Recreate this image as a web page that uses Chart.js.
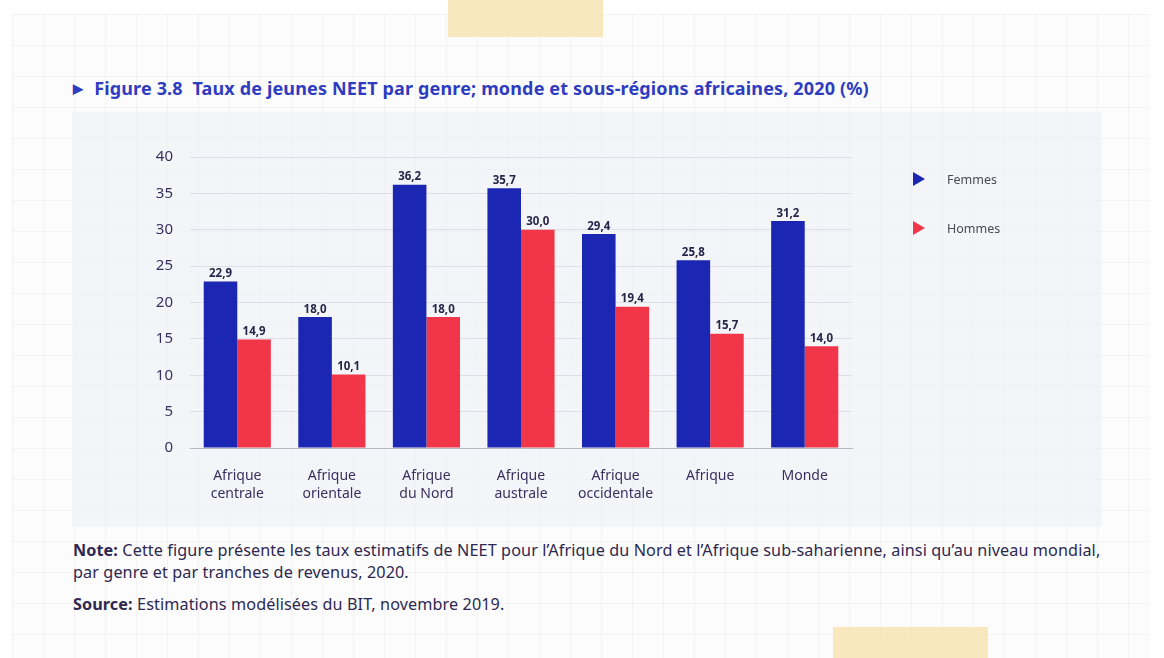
<!DOCTYPE html>
<html><head><meta charset="utf-8">
<script src="https://cdn.jsdelivr.net/npm/chart.js@4/dist/chart.umd.min.js"></script>
<style>
html,body{margin:0;padding:0;background:#fff;}
body{width:1164px;height:658px;position:relative;overflow:hidden;font-family:"Noto Sans",sans-serif;}
#paper{position:absolute;left:12px;top:14px;width:1138px;height:650px;background-color:#fcfcfd;
background-image:linear-gradient(to right, rgba(0,0,0,0.035) 1px, transparent 1px),linear-gradient(to bottom, rgba(0,0,0,0.035) 1px, transparent 1px);
background-size:31px 31px;}
#panel{position:absolute;left:72px;top:112px;width:1030px;height:415px;background:rgba(236,238,246,0.55);}
#tape1{position:absolute;left:448px;top:0;width:155px;height:37px;background:rgba(248,225,172,0.8);}
#tape2{position:absolute;left:833px;top:627px;width:155px;height:31px;background:rgba(248,225,172,0.8);}
#title{position:absolute;left:73px;top:76px;font-size:18px;font-weight:bold;color:#2f3cc0;white-space:nowrap;letter-spacing:0.15px;}
#title .tri{display:inline-block;font-size:13px;margin-right:11px;vertical-align:2px;}
#note{position:absolute;left:73px;top:539px;font-size:16.2px;line-height:22px;color:#2e2850;width:1080px;white-space:nowrap;letter-spacing:0.1px;}
#source{position:absolute;left:73px;top:593px;font-size:16.2px;color:#2e2850;letter-spacing:0.1px;}
b{font-weight:bold;}
#wrap{position:absolute;left:72px;top:112px;width:1030px;height:415px;}
</style></head>
<body>
<div id="paper"></div>
<div id="panel"></div>
<div id="tape1"></div>
<div id="tape2"></div>
<div id="title"><span class="tri">&#9654;</span>Figure 3.8&nbsp; Taux de jeunes NEET par genre; monde et sous-régions africaines, 2020 (%)</div>
<div id="wrap"><canvas id="c" width="1030" height="415"></canvas></div>
<div id="note"><b>Note:</b> Cette figure présente les taux estimatifs de NEET pour l’Afrique du Nord et l’Afrique sub-saharienne, ainsi qu’au niveau mondial,<br>par genre et par tranches de revenus, 2020.</div>
<div id="source"><b>Source:</b> Estimations modélisées du BIT, novembre 2019.</div>
<script>
const categories = [["Afrique","centrale"],["Afrique","orientale"],["Afrique","du Nord"],["Afrique","australe"],["Afrique","occidentale"],["Afrique"],["Monde"]];
const femmes = [22.9, 18.0, 36.2, 35.7, 29.4, 25.8, 31.2];
const hommes = [14.9, 10.1, 18.0, 30.0, 19.4, 15.7, 14.0];
const seriesNames = ["Femmes","Hommes"];
const yTicks = [0,5,10,15,20,25,30,35,40];
const colors = ["#1b27b2","#f2364a"];

const FONT = "'Noto Sans', sans-serif";

const valueLabels = {
  id:'valueLabels',
  afterDatasetsDraw(chart){
    const ctx = chart.ctx;
    ctx.save();
    ctx.font = "bold 11.5px " + FONT;
    ctx.fillStyle = "#2a2448";
    ctx.textAlign = "center";
    ctx.textBaseline = "bottom";
    chart.data.datasets.forEach((ds,i)=>{
      chart.getDatasetMeta(i).data.forEach((bar,j)=>{
        ctx.fillText(ds.data[j].toFixed(1).replace('.',','), bar.x, bar.y - 2);
      });
    });
    ctx.restore();
  }
};

const sideLegend = {
  id:'sideLegend',
  afterDraw(chart){
    const ctx = chart.ctx;
    const x0 = chart.chartArea.right + 61;
    const y0 = chart.chartArea.top + 22;
    ctx.save();
    chart.data.datasets.forEach((ds,i)=>{
      const y = y0 + i*49;
      ctx.fillStyle = ds.backgroundColor;
      ctx.beginPath();
      ctx.moveTo(x0, y-7);
      ctx.lineTo(x0+12, y);
      ctx.lineTo(x0, y+7);
      ctx.closePath();
      ctx.fill();
      ctx.fillStyle = "#4a4a55";
      ctx.font = "12.5px " + FONT;
      ctx.textAlign = "left";
      ctx.textBaseline = "middle";
      ctx.fillText(ds.label, x0+34, y+1);
    });
    ctx.restore();
  }
};

new Chart(document.getElementById('c'), {
  type:'bar',
  data:{
    labels: categories,
    datasets:[
      {label:seriesNames[0], data:femmes, backgroundColor:colors[0]},
      {label:seriesNames[1], data:hommes, backgroundColor:colors[1]}
    ]
  },
  options:{
    responsive:false,
    animation:false,
    devicePixelRatio:1,
    layout:{padding:{left:0,right:250,top:45,bottom:0}},
    plugins:{legend:{display:false},tooltip:{enabled:false}},
    datasets:{bar:{categoryPercentage:0.71,barPercentage:1}},
    scales:{
      x:{
        grid:{display:false,drawTicks:false},
        border:{display:true,color:"#b9b9c2",width:1},
        ticks:{padding:19,color:"#3a2f5e",font:{family:FONT,size:14,lineHeight:1.3},maxRotation:0,autoSkip:false},
        afterFit(s){ s.height = 79; }
      },
      y:{
        min:0,max:40,
        afterBuildTicks(s){ s.ticks = yTicks.map(v=>({value:v})); },
        grid:{color:"#dedee6",drawTicks:false},
        border:{display:false},
        ticks:{padding:17,color:"#3a2f5e",font:{family:FONT,size:15}},
        afterFit(s){ s.width = 118; }
      }
    }
  },
  plugins:[valueLabels, sideLegend]
});
</script>
</body></html>
